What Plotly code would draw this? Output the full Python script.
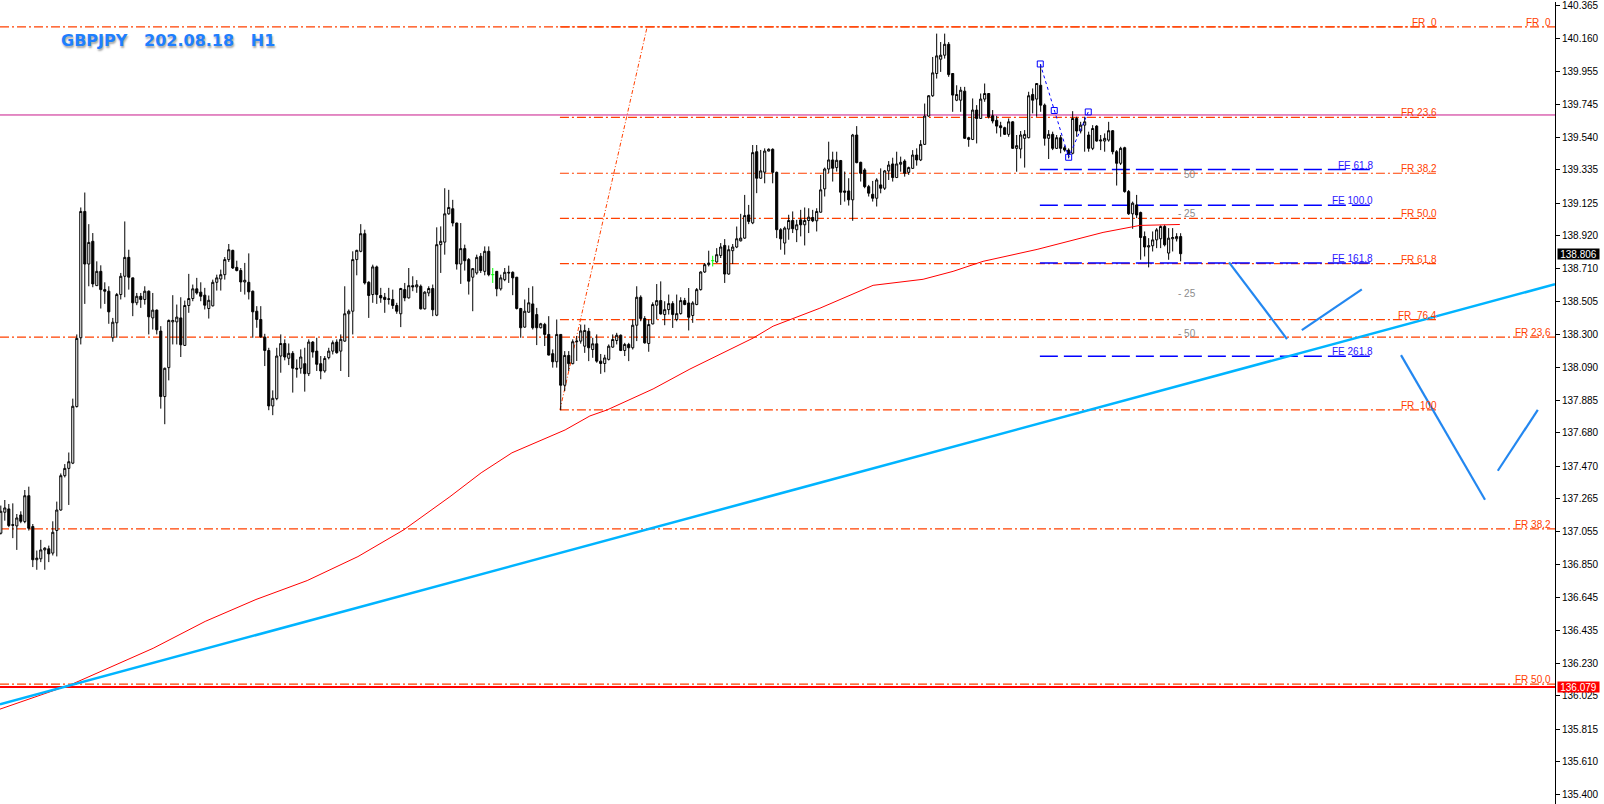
import plotly.graph_objects as go

# ---------------- candle data (H1 GBPJPY) ----------------
open_ = [
137.047,137.179,137.200,137.101,137.093,137.162,137.120,137.283,137.089,136.880,
136.886,136.942,136.949,136.922,137.064,137.193,137.409,137.455,137.488,137.844,
138.277,139.072,138.741,138.884,138.605,138.695,138.580,138.570,138.277,138.371,
138.549,138.664,138.783,138.654,138.497,138.538,138.518,138.570,138.402,138.451,
138.319,137.907,138.089,138.377,138.377,138.402,138.229,138.480,138.524,138.585,
138.564,138.545,138.461,138.478,138.626,138.647,138.674,138.769,138.827,138.720,
138.700,138.628,138.626,138.570,138.444,138.392,138.281,138.197,137.848,137.894,
138.162,138.241,138.148,138.179,138.085,138.085,138.114,138.051,138.250,138.193,
138.114,138.068,138.152,138.193,138.250,138.193,138.256,138.428,138.444,138.769,
138.821,138.932,138.626,138.549,138.723,138.543,138.532,138.518,138.518,138.480,
138.428,138.580,138.528,138.605,138.597,138.601,138.459,138.559,138.587,138.419,
138.863,138.879,139.057,139.089,138.999,138.741,138.838,138.769,138.658,138.685,
138.790,138.695,138.821,138.674,138.695,138.585,138.643,138.689,138.689,138.658,
138.461,138.344,138.438,138.490,138.423,138.340,138.361,138.298,138.177,138.126,
138.298,137.978,138.166,138.114,138.252,138.256,138.224,138.318,138.203,138.239,
138.130,138.115,138.141,138.218,138.260,138.293,138.197,138.235,138.214,138.356,
138.532,138.398,138.241,138.364,138.482,138.511,138.423,138.454,138.492,138.392,
138.429,138.511,138.496,138.417,138.486,138.580,138.691,138.737,138.762,138.754,
138.795,138.858,138.678,138.825,138.848,138.887,138.904,139.050,139.000,139.448,
139.281,139.319,139.452,139.463,139.318,138.957,138.873,138.961,139.015,138.957,
139.019,138.988,139.015,139.034,139.013,139.067,139.214,139.339,139.396,139.348,
139.392,139.201,139.201,139.145,139.553,139.381,139.333,139.228,139.180,139.155,
139.239,139.218,139.327,139.371,139.285,139.369,139.389,139.318,139.343,139.427,
139.396,139.494,139.672,139.800,139.940,140.030,140.055,140.124,139.940,139.772,
139.772,139.829,139.536,139.525,139.710,139.657,139.779,139.814,139.674,139.645,
139.611,139.599,139.557,139.636,139.469,139.465,139.532,139.536,139.808,139.779,
139.866,139.741,139.532,139.557,139.469,139.536,139.473,139.458,139.438,139.657,
139.578,139.615,139.553,139.469,139.609,139.515,139.515,139.521,139.580,139.448,
139.375,139.473,139.197,139.057,139.113,139.065,138.914,138.848,138.856,138.893,
138.900,138.977,138.810,138.900,138.900,138.914]

high = [
137.221,137.256,137.231,137.235,137.168,137.185,137.319,137.340,137.105,136.938,
137.005,136.959,136.969,137.122,137.246,137.423,137.482,137.555,137.894,138.298,
139.097,139.191,138.992,138.936,138.758,138.733,138.626,138.601,138.402,138.559,
138.685,139.009,138.831,138.654,138.559,138.559,138.601,138.575,138.559,138.455,
138.350,138.089,138.392,138.545,138.486,138.532,138.511,138.679,138.612,138.654,
138.626,138.591,138.543,138.643,138.674,138.706,138.785,138.867,138.831,138.762,
138.716,138.748,138.808,138.574,138.476,138.476,138.302,138.214,137.946,138.214,
138.298,138.267,138.241,138.193,138.141,138.204,138.214,138.267,138.256,138.277,
138.162,138.162,138.214,138.260,138.267,138.298,138.601,138.455,138.821,138.831,
138.992,138.957,138.633,138.737,138.731,138.591,138.559,138.591,138.580,138.497,
138.591,138.622,138.716,138.664,138.640,138.612,138.570,138.601,138.612,138.972,
138.978,139.218,139.208,139.145,139.001,138.999,138.863,138.779,138.716,138.800,
138.810,138.852,138.852,138.716,138.697,138.674,138.716,138.731,138.695,138.660,
138.465,138.518,138.591,138.601,138.465,138.371,138.371,138.413,138.204,138.392,
138.300,138.193,138.193,138.267,138.288,138.360,138.360,138.339,138.277,138.298,
138.175,138.170,138.235,138.298,138.308,138.298,138.245,138.245,138.392,138.601,
138.544,138.413,138.392,138.500,138.615,138.632,138.507,138.549,138.507,138.549,
138.532,138.528,138.590,138.507,138.590,138.695,138.747,138.825,138.793,138.841,
138.873,138.898,138.858,138.867,138.977,139.057,139.176,139.113,139.490,139.490,
139.459,139.469,139.469,139.469,139.323,138.967,138.977,139.051,139.072,139.019,
139.082,139.097,139.092,139.082,139.092,139.302,139.348,139.511,139.448,139.448,
139.396,139.323,139.281,139.560,139.609,139.385,139.344,139.239,139.264,139.281,
139.343,139.333,139.389,139.410,139.448,139.417,139.400,139.354,139.458,139.469,
139.521,139.751,139.804,140.044,140.191,140.138,140.191,140.138,139.942,139.866,
139.856,139.856,139.542,139.783,139.741,139.814,139.877,139.816,139.710,139.674,
139.636,139.605,139.657,139.640,139.553,139.578,139.584,139.825,139.846,139.880,
139.998,139.751,139.584,139.574,139.553,139.553,139.486,139.469,139.703,139.668,
139.636,139.668,139.574,139.615,139.615,139.553,139.563,139.636,139.584,139.458,
139.479,139.479,139.207,139.134,139.176,139.071,138.946,138.904,138.946,138.967,
138.984,138.988,138.967,138.967,138.935,138.935]

low = [
137.039,137.126,137.085,137.016,136.942,137.110,137.110,137.064,136.834,136.817,
136.865,136.817,136.865,136.907,136.901,137.189,137.398,137.225,137.482,137.838,
138.235,138.490,138.601,138.595,138.605,138.461,138.490,138.365,138.252,138.277,
138.518,138.532,138.580,138.413,138.482,138.465,138.486,138.298,138.329,138.298,
137.831,137.733,138.009,138.235,138.235,138.156,138.225,138.434,138.507,138.549,
138.507,138.455,138.398,138.474,138.574,138.574,138.643,138.754,138.710,138.695,
138.566,138.549,138.518,138.277,138.340,138.277,138.099,137.821,137.790,137.884,
138.057,138.135,138.105,137.932,138.026,138.051,137.938,138.036,138.152,138.068,
138.016,138.057,138.141,138.172,138.177,138.068,138.252,138.030,138.298,138.670,
138.815,138.612,138.402,138.497,138.490,138.497,138.434,138.486,138.459,138.428,
138.344,138.507,138.524,138.570,138.560,138.455,138.455,138.538,138.413,138.413,
138.685,138.800,139.051,138.978,138.706,138.616,138.700,138.549,138.444,138.674,
138.685,138.670,138.664,138.622,138.538,138.574,138.633,138.622,138.545,138.455,
138.277,138.340,138.434,138.329,138.231,138.336,138.225,138.166,138.089,138.089,
137.821,137.942,138.068,138.110,138.131,138.240,138.182,138.130,138.151,138.120,
138.050,138.060,138.134,138.214,138.235,138.193,138.162,138.130,138.203,138.256,
138.381,138.240,138.189,138.362,138.392,138.423,138.356,138.423,138.339,138.381,
138.423,138.482,138.323,138.371,138.482,138.574,138.685,138.726,138.726,138.749,
138.779,138.622,138.674,138.741,138.841,138.883,138.900,138.992,138.992,139.187,
139.277,139.249,139.450,139.249,138.904,138.831,138.800,138.894,138.936,138.879,
138.915,138.858,138.936,139.005,138.946,139.065,139.166,139.312,139.260,139.323,
139.113,139.134,139.109,139.013,139.375,139.260,139.218,139.166,139.134,139.103,
139.186,139.207,139.270,139.260,139.283,139.322,139.291,139.302,139.341,139.360,
139.389,139.490,139.668,139.793,139.908,139.950,140.034,139.919,139.699,139.766,
139.699,139.530,139.479,139.521,139.500,139.655,139.762,139.657,139.626,139.563,
139.542,139.553,139.542,139.467,139.322,139.406,139.348,139.532,139.689,139.668,
139.699,139.486,139.402,139.458,139.465,139.438,139.448,139.406,139.431,139.542,
139.563,139.448,139.448,139.458,139.511,139.458,139.448,139.511,139.431,139.235,
139.364,139.190,139.050,138.963,139.030,138.768,138.789,138.720,138.820,138.841,
138.841,138.852,138.768,138.820,138.883,138.758]

close = [
137.185,137.206,137.095,137.097,137.143,137.122,137.283,137.078,136.880,136.890,
136.942,136.953,136.917,137.053,137.193,137.409,137.455,137.497,137.846,138.273,
139.072,138.741,138.877,138.616,138.695,138.580,138.570,138.440,138.375,138.549,
138.664,138.783,138.658,138.497,138.538,138.518,138.570,138.409,138.451,138.327,
137.907,138.085,138.386,138.386,138.407,138.233,138.480,138.524,138.585,138.559,
138.538,138.482,138.513,138.626,138.654,138.674,138.769,138.831,138.716,138.700,
138.628,138.639,138.566,138.440,138.392,138.283,138.197,137.848,137.896,138.162,
138.241,138.156,138.179,138.085,138.080,138.156,138.051,138.250,138.187,138.110,
138.068,138.147,138.193,138.246,138.183,138.267,138.428,138.444,138.769,138.827,
138.932,138.622,138.543,138.723,138.549,138.528,138.518,138.522,138.480,138.444,
138.587,138.528,138.605,138.597,138.610,138.459,138.564,138.587,138.453,138.863,
138.884,139.057,139.097,138.999,138.741,138.838,138.762,138.633,138.712,138.783,
138.700,138.821,138.674,138.674,138.585,138.654,138.689,138.685,138.654,138.461,
138.340,138.444,138.497,138.340,138.340,138.365,138.298,138.168,138.126,138.298,
137.978,138.166,138.114,138.252,138.256,138.320,138.323,138.214,138.239,138.130,
138.115,138.150,138.224,138.266,138.293,138.197,138.235,138.214,138.356,138.532,
138.398,138.245,138.360,138.486,138.511,138.427,138.454,138.492,138.423,138.429,
138.511,138.486,138.406,138.496,138.580,138.691,138.737,138.747,138.762,138.800,
138.848,138.678,138.831,138.848,138.900,138.904,139.046,139.009,139.442,139.281,
139.327,139.452,139.463,139.318,138.957,138.900,138.967,139.015,138.963,138.988,
138.988,139.015,139.036,139.013,139.072,139.208,139.339,139.396,139.344,139.394,
139.193,139.193,139.145,139.553,139.379,139.312,139.228,139.187,139.155,139.270,
139.218,139.327,139.364,139.285,139.371,139.381,139.312,139.348,139.427,139.396,
139.494,139.672,139.800,139.944,140.051,140.055,140.124,139.933,139.804,139.808,
139.835,139.532,139.525,139.710,139.657,139.779,139.814,139.668,139.641,139.609,
139.599,139.557,139.636,139.469,139.486,139.553,139.557,139.800,139.772,139.877,
139.741,139.532,139.557,139.469,139.536,139.469,139.458,139.431,139.657,139.578,
139.615,139.636,139.469,139.594,139.515,139.521,139.532,139.580,139.448,139.375,
139.469,139.197,139.057,139.124,139.050,138.908,138.848,138.856,138.893,138.956,
138.977,138.862,138.904,138.908,138.914,138.806]

doji_bars = [123, 178]          # bars drawn green (open == close)

# moving average (bar index, value)
ma_bar = [-0.2, 17.8, 38.1, 51.1, 63.8, 76.6, 89.3, 100.8, 112.3, 120.1, 127.8, 134.8,
          141.1, 147.3, 151.6, 163.1, 172.3, 188.1, 193.1, 204.8, 213.1, 218.1, 230.6,
          238.1, 245.6, 259.1, 275.6, 284.8, 294.8]
ma_val = [135.940, 136.097, 136.323, 136.492, 136.630, 136.749, 136.900, 137.069, 137.277,
          137.427, 137.553, 137.628, 137.697, 137.785, 137.823, 137.955, 138.080, 138.275,
          138.350, 138.463, 138.551, 138.607, 138.645, 138.695, 138.758, 138.833, 138.940,
          138.984, 138.990]

# Fibonacci retracement (long) spanning whole chart
fibA_high, fibA_low = 140.233, 131.963
fibA_ratios = [0.0, 23.6, 38.2, 50.0]
fibA_labels = ["FR\u00a0\u00a00", "FR 23.6", "FR 38.2", "FR 50.0"]

# Fibonacci retracement (short)
fibB_high, fibB_low = 140.233, 137.823
fibB_start, fibB_end, fibB_top_bar = 139.8, 359.6, 161.6
fibB_ratios = [0.0, 23.6, 38.2, 50.0, 61.8, 76.4, 100.0]
fibB_labels = ["FR\u00a0\u00a00", "FR 23.6", "FR 38.2", "FR 50.0", "FR 61.8",
               "FR\u00a0\u00a076.4", "FR\u00a0\u00a0100"]

# Fibonacci expansion
fe_bars = [259.9, 263.4, 267.0, 271.9]
fe_prices = [140.000, 139.707, 139.413, 139.698]
fe_ratios = [61.8, 100.0, 161.8, 261.8]
fe_labels = ["FE 61.8", "FE 100.0", "FE 161.8", "FE 261.8"]
fe_start, fe_end = 259.8, 342.3

# horizontal levels
magenta_level = 139.679
support_level = 136.079
last_price = 138.806

# trend line and projection strokes (bar, price pairs)
trend_bars, trend_prices = [-0.2, 388.6], [135.971, 138.614]
proj_lines = [
    ([307.1, 321.6], [138.752, 138.269]),
    ([325.3, 340.3], [138.325, 138.582]),
    ([350.1, 371.1], [138.168, 137.258]),
    ([374.3, 384.3], [137.440, 137.823]),
]

# gray side labels
side_labels = ["50", "- 25", "- 25", "- 50"]
side_prices = [139.304, 139.059, 138.557, 138.306]
side_bar = 299.3

y_ticks = [140.365, 140.160, 139.955, 139.745, 139.540, 139.335, 139.125, 138.920,
           138.710, 138.505, 138.300, 138.090, 137.885, 137.680, 137.470, 137.265,
           137.055, 136.850, 136.645, 136.435, 136.230, 136.025, 135.815, 135.610, 135.400]
y_range = [135.343, 140.390]
x_range = [-0.2, 388.6]

title_text = "GBPJPY\u00a0\u00a0\u00a0202.08.18\u00a0\u00a0\u00a0H1"

# ---------------- build figure ----------------
ORANGE = "#FF4000"
FIB_DASH = "9px,3px,2px,3px"
LBL_FONT = "Liberation Sans, Arial, sans-serif"

fig = go.Figure()
shapes = []
annotations = []

# Fib A (full width)
for r, lab in zip(fibA_ratios, fibA_labels):
    lvl = fibA_high - r / 100.0 * (fibA_high - fibA_low)
    shapes.append(dict(type="line", xref="paper", yref="y", x0=0, x1=1, y0=lvl, y1=lvl,
                       line=dict(color=ORANGE, width=1.2, dash=FIB_DASH), layer="below"))
    annotations.append(dict(xref="paper", yref="y", x=1, y=lvl, text=lab, showarrow=False,
                            xanchor="right", yanchor="bottom", xshift=-2, yshift=-3,
                            font=dict(family=LBL_FONT, size=10, color=ORANGE)))

# Fib B
for r, lab in zip(fibB_ratios, fibB_labels):
    lvl = fibB_high - r / 100.0 * (fibB_high - fibB_low)
    shapes.append(dict(type="line", xref="x", yref="y", x0=fibB_start, x1=fibB_end, y0=lvl, y1=lvl,
                       line=dict(color=ORANGE, width=1.2, dash=FIB_DASH), layer="below"))
    annotations.append(dict(xref="x", yref="y", x=fibB_end, y=lvl, text=lab, showarrow=False,
                            xanchor="right", yanchor="bottom", yshift=-3,
                            font=dict(family=LBL_FONT, size=10, color=ORANGE)))
shapes.append(dict(type="line", xref="x", yref="y", x0=fibB_start, x1=fibB_top_bar,
                   y0=fibB_low, y1=fibB_high, line=dict(color=ORANGE, width=1, dash="4px,2px,1px,2px"),
                   layer="below"))

# Fib expansion levels
a, b, c = fe_prices[0], fe_prices[2], fe_prices[3]
for r, lab in zip(fe_ratios, fe_labels):
    lvl = c - r / 100.0 * (a - b)
    shapes.append(dict(type="line", xref="x", yref="y", x0=fe_start, x1=fe_end, y0=lvl, y1=lvl,
                       line=dict(color="#0000FF", width=1.5, dash="18px,6px"), layer="below"))
    annotations.append(dict(xref="x", yref="y", x=fe_end + 1.2, y=lvl, text=lab, showarrow=False,
                            xanchor="right", yanchor="bottom", yshift=-3,
                            font=dict(family=LBL_FONT, size=10, color="#2A14FF")))

# horizontal lines
shapes.append(dict(type="line", xref="paper", yref="y", x0=0, x1=1, y0=magenta_level, y1=magenta_level,
                   line=dict(color="#C8188A", width=1), layer="below"))
shapes.append(dict(type="line", xref="paper", yref="y", x0=0, x1=1, y0=support_level, y1=support_level,
                   line=dict(color="#FF0000", width=2), layer="below"))

# moving average
fig.add_trace(go.Scatter(x=ma_bar, y=ma_val, mode="lines", line=dict(color="#FF0000", width=1),
                         hoverinfo="skip", showlegend=False))

# trend line
fig.add_trace(go.Scatter(x=trend_bars, y=trend_prices, mode="lines",
                         line=dict(color="#00B4FF", width=2.5), hoverinfo="skip", showlegend=False))

# projection strokes
for xs, ys in proj_lines:
    fig.add_trace(go.Scatter(x=xs, y=ys, mode="lines", line=dict(color="#2387F0", width=2.2),
                             hoverinfo="skip", showlegend=False))

# candles
n = len(close)
main_bars = [i for i in range(n) if i not in doji_bars]
fig.add_trace(go.Candlestick(
    x=main_bars,
    open=[open_[i] for i in main_bars], high=[high[i] for i in main_bars],
    low=[low[i] for i in main_bars], close=[close[i] for i in main_bars],
    increasing=dict(line=dict(color="black", width=1), fillcolor="white"),
    decreasing=dict(line=dict(color="black", width=1), fillcolor="black"),
    whiskerwidth=0, hoverinfo="skip", showlegend=False))

dx, dy = [], []
for i in doji_bars:
    dx += [i, i, None, i - 0.4, i + 0.4, None]
    dy += [low[i], high[i], None, open_[i], close[i], None]
fig.add_trace(go.Scatter(x=dx, y=dy, mode="lines", line=dict(color="#00FF00", width=1),
                         hoverinfo="skip", showlegend=False))

# expansion path
fig.add_trace(go.Scatter(x=[fe_bars[0], fe_bars[2], fe_bars[3]], y=[fe_prices[0], fe_prices[2], fe_prices[3]],
                         mode="lines", line=dict(color="#0000FF", width=1, dash="3px,3px"),
                         hoverinfo="skip", showlegend=False))
fig.add_trace(go.Scatter(x=fe_bars, y=fe_prices, mode="markers",
                         marker=dict(symbol="square-open", size=6, color="#0000FF", line=dict(width=1)),
                         hoverinfo="skip", showlegend=False))

# gray side labels
for t, p in zip(side_labels, side_prices):
    annotations.append(dict(xref="x", yref="y", x=side_bar, y=p, text=t, showarrow=False,
                            xanchor="right", yanchor="middle",
                            font=dict(family=LBL_FONT, size=10, color="#8C8C8C")))

# price tags on axis
annotations.append(dict(xref="paper", yref="y", x=1, y=last_price, text="138.806", showarrow=False,
                        xanchor="left", yanchor="middle", xshift=2, bgcolor="black", borderpad=0,
                        width=41, height=10,
                        font=dict(family=LBL_FONT, size=10, color="white")))
annotations.append(dict(xref="paper", yref="y", x=1, y=support_level, text="136.079", showarrow=False,
                        xanchor="left", yanchor="middle", xshift=2, bgcolor="#FF0000", borderpad=0,
                        width=41, height=10,
                        font=dict(family=LBL_FONT, size=10, color="white")))

# title
annotations.append(dict(xref="paper", yref="paper", x=59 / 1555, y=1 - 39 / 804, text=title_text,
                        showarrow=False, xanchor="left", yanchor="middle",
                        font=dict(family="DejaVu Sans, Verdana, sans-serif", size=16, color="#1E7FFF",
                                  weight="bold", shadow="1px 2px 2px rgba(0,0,0,0.35)")))

fig.update_layout(
    width=1604, height=804,
    margin=dict(l=0, r=49, t=0, b=0),
    paper_bgcolor="white", plot_bgcolor="white",
    showlegend=False, boxgap=0.25,
    shapes=shapes, annotations=annotations,
    xaxis=dict(range=x_range, visible=False, rangeslider=dict(visible=False), fixedrange=True),
    yaxis=dict(range=y_range, side="right", tickmode="array", tickvals=y_ticks,
               ticktext=[f"{v:.3f}" for v in y_ticks], ticks="outside", ticklen=4,
               tickcolor="black", showline=True, linecolor="black", linewidth=1,
               showgrid=False, zeroline=False, fixedrange=True, ticklabeloverflow="allow",
               tickfont=dict(family=LBL_FONT, size=10, color="black")),
)

fig.write_html("out.html", config={"displayModeBar": False},
               post_script="document.body.style.margin='0';")
